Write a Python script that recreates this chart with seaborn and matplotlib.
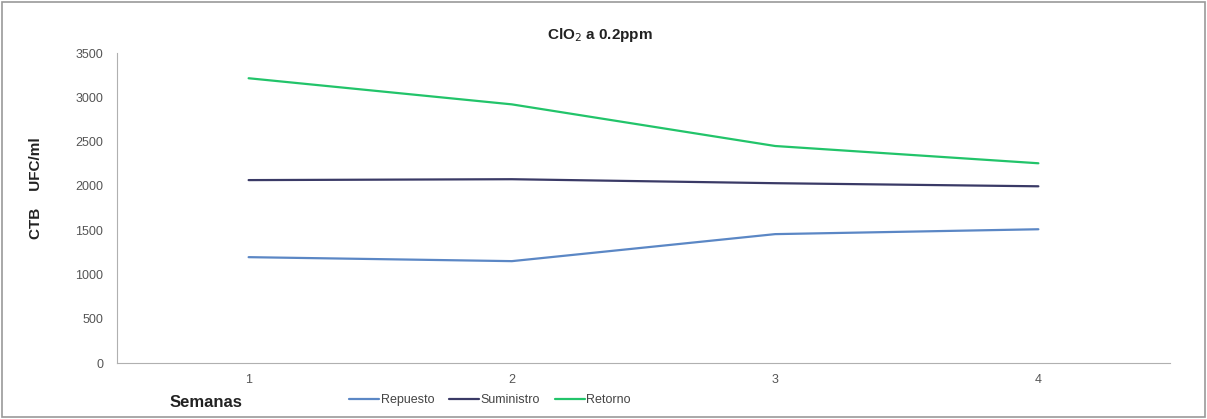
import matplotlib
matplotlib.use("Agg")
import matplotlib.pyplot as plt
import seaborn as sns
import pandas as pd
from matplotlib.patches import Rectangle

semanas = [1, 2, 3, 4]
repuesto = [1195, 1150, 1455, 1510]
suministro = [2065, 2075, 2030, 1995]
retorno = [3215, 2920, 2450, 2255]
series_names = ["Repuesto", "Suministro", "Retorno"]
y_ticks = [0, 500, 1000, 1500, 2000, 2500, 3000, 3500]

df = pd.DataFrame({
    "Semana": semanas * 3,
    "Valor": repuesto + suministro + retorno,
    "Serie": [series_names[0]] * 4 + [series_names[1]] * 4 + [series_names[2]] * 4,
})

sns.set_style("white")
plt.rcParams['font.family'] = ['Liberation Sans', 'DejaVu Sans']

fig = plt.figure(figsize=(12.07, 4.19), dpi=100)
ax = fig.add_axes([117/1207, 56/419, (1170-117)/1207, (363-53)/419])
palette = {"Repuesto": "#5b87c5", "Suministro": "#3a3a66", "Retorno": "#22c46a"}
sns.lineplot(data=df, x="Semana", y="Valor", hue="Serie", palette=palette,
             linewidth=1.6, ax=ax, legend=True)

ax.set_xlim(0.5, 4.5)
ax.set_ylim(0, 3500)
ax.set_xticks(semanas)
ax.set_xticklabels([str(s) for s in semanas])
ax.set_yticks(y_ticks)
ax.tick_params(axis='both', labelsize=9, colors='#555555', length=0, pad=8)
ax.tick_params(axis='y', length=4, color='#aaaaaa', direction='out', pad=6)
ax.set_xlabel("")
ax.set_ylabel("")
for s in ["top", "right"]:
    ax.spines[s].set_visible(False)
for s in ["left", "bottom"]:
    ax.spines[s].set_color("#b0b0b0")
    ax.spines[s].set_linewidth(0.8)

handles, labels = ax.get_legend_handles_labels()
ax.get_legend().remove()
leg = fig.legend(handles, labels, loc='center', bbox_to_anchor=(490/1207, 1 - 400/419),
                 ncol=3, frameon=False, fontsize=9, handlelength=2.4,
                 handletextpad=0.1, columnspacing=1.2)
for t in leg.get_texts():
    t.set_color('#444444')

fig.text(600/1207, 1 - 35/419, "ClO$_2$ a 0.2ppm", ha='center', va='center',
         fontsize=11, fontweight='bold', color='#222222')
fig.text(36/1207, 1 - 188/419, "CTB    UFC/ml", ha='center', va='center', rotation=90,
         fontsize=11, fontweight='bold', color='#222222')
fig.text(170/1207, 1 - 402/419, "Semanas", ha='left', va='center',
         fontsize=12, fontweight='bold', color='#222222')

fig.patches.append(Rectangle((0.002, 0.004), 0.996, 0.992, transform=fig.transFigure,
                             fill=False, edgecolor='#999999', linewidth=1.2))

fig.savefig("out.png", dpi=100)
